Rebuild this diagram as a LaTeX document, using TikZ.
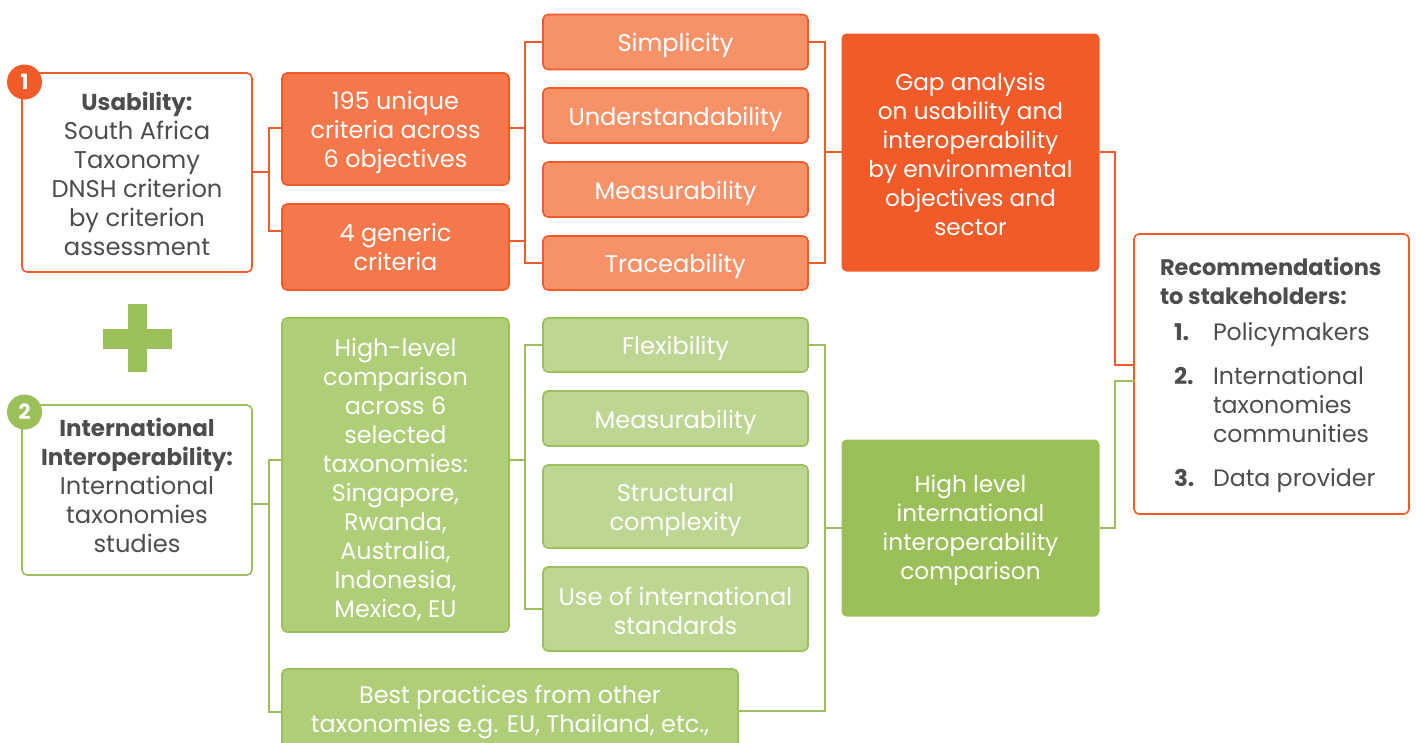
\documentclass[tikz,border=0pt]{standalone}
\usepackage{fontspec}
\setmainfont{Poppins}
\definecolor{org}{HTML}{F15A29}
\definecolor{orgm}{HTML}{F5784C}
\definecolor{orgl}{HTML}{F79268}
\definecolor{grn}{HTML}{9BC059}
\definecolor{grnm}{HTML}{AECE78}
\definecolor{grnl}{HTML}{BDD692}
\definecolor{ink}{HTML}{4D4D4F}
% multi-line text with rows exactly 29pt apart; the optional argument moves the text down
\newcommand\tx[2][0]{\vbox{\baselineskip=29pt\lineskiplimit=-100pt\let\\\cr
  \halign{\hfil\vrule height \dimexpr 22.8pt+#1pt\relax depth \dimexpr 6.2pt-#1pt\relax width 0pt ##\hfil\cr #2\crcr}}}
\newcommand\txl[2][0]{\vbox{\baselineskip=29pt\lineskiplimit=-100pt\let\\\cr
  \halign{\vrule height \dimexpr 22.8pt+#1pt\relax depth \dimexpr 6.2pt-#1pt\relax width 0pt ##\hfil\cr #2\crcr}}}
\newcommand\bfs[1]{{\fontsize{23}{29}\selectfont\bfseries #1}}
\newcommand\bfr[1]{{\fontsize{22.5}{29}\selectfont\bfseries #1}}
\newcommand\num[1]{\hspace*{14pt}\makebox[39pt][l]{\bfs{#1}}}
\tikzset{
 x=1pt,y=-1pt,
 base/.style={rounded corners=5pt,line width=1.6pt,outer sep=0pt,inner sep=0pt,
   font=\fontsize{23.9}{29}\selectfont},
 size/.style 2 args={minimum width=#1pt,minimum height=#2pt},
 orgwhite/.style={base,draw=org,fill=white,text=ink,font=\fontsize{24.2}{29}\selectfont},
 grnwhite/.style={base,draw=grn,fill=white,text=ink,font=\fontsize{24.2}{29}\selectfont},
 orgmid/.style={base,draw=org,fill=orgm,text=white},
 orglight/.style={base,draw=org,fill=orgl,text=white,font=\fontsize{24.1}{29}\selectfont},
 orgstrong/.style={base,fill=org,text=white,font=\fontsize{23.2}{29}\selectfont},
 grnmid/.style={base,draw=grn,fill=grnm,text=white},
 grnlight/.style={base,draw=grn,fill=grnl,text=white,font=\fontsize{24.1}{29}\selectfont},
 grnstrong/.style={base,fill=grn,text=white,font=\fontsize{23.2}{29}\selectfont},
 recbox/.style={orgwhite,font=\fontsize{23.7}{29}\selectfont},
 badge/.style={circle,minimum size=35pt,inner sep=0pt,outer sep=0pt,text=white,font=\fontsize{21}{24}\selectfont\bfseries},
 olink/.style={draw=org,line width=1.5pt},
 glink/.style={draw=grn,line width=1.5pt},
}
\begin{document}
\begin{tikzpicture}
\clip (0,0) rectangle (1416,742);
% plus
\fill[grn] (127.5,304) rectangle (147,372);
\fill[grn] (103,329) rectangle (171.5,349);

% junction coordinates
\coordinate (j1) at (269,172);
\coordinate (j1a) at (269,128);
\coordinate (j1b) at (269,231);
\coordinate (j2) at (525,128);
\coordinate (j2b) at (525,241);
\coordinate (j2a) at (525,42);
\coordinate (j2c) at (525,263);
\coordinate (j3) at (825,152);
\coordinate (j3a) at (825,42);
\coordinate (j3c) at (825,263);
\coordinate (j4) at (1115,152);
\coordinate (j4b) at (1115,365);
\coordinate (g1) at (269,504);
\coordinate (g1a) at (269,460);
\coordinate (g1b) at (269,712);
\coordinate (g2) at (525,460);
\coordinate (g2a) at (525,345);
\coordinate (g2c) at (525,609);
\coordinate (g3) at (825,528);
\coordinate (g3a) at (825,345);
\coordinate (g3c) at (825,711);
\coordinate (g4) at (1115,528);
\coordinate (g4b) at (1115,381);

% top row
\node[orgwhite,size={230}{199}] (usab) at (137,172.5) {\tx[2.5]{\bfs{Usability:}\\South Africa\\Taxonomy\\DNSH criterion\\by criterion\\assessment}};
\node[orgmid,size={227}{112}] (crita) at (395.5,129) {\tx[3]{195 unique\\criteria across\\6 objectives}};
\node[orgmid,size={227}{86}] (critb) at (395.5,247) {\tx[0.5]{4 generic\\criteria}};
\node[orglight,size={265}{55}] (simp) at (675.5,42) {\tx[2.8]{Simplicity}};
\node[orglight,size={265}{55}] (under) at (675.5,115.5) {\tx[2.8]{Understandability}};
\node[orglight,size={265}{55}] (meas) at (675.5,189.5) {\tx[2.8]{Measurability}};
\node[orglight,size={265}{54}] (trace) at (675.5,263) {\tx[2.8]{Traceability}};
\node[orgstrong,size={258}{238}] (gap) at (970.5,152.5) {\tx[2.2]{Gap analysis\\on usability and\\interoperability\\by environmental\\objectives and\\sector}};

% bottom row
\node[grnwhite,size={230}{170}] (intl) at (137,490) {\tx[-4]{\bfs{International}\\\bfs{Interoperability:}\\International\\taxonomies\\studies}};
\node[grnmid,size={227}{314}] (hilev) at (395.5,475) {\tx[4]{High-level\\comparison\\across 6\\selected\\taxonomies:\\Singapore,\\Rwanda,\\Australia,\\Indonesia,\\Mexico, EU}};
\node[grnmid,size={456}{80}] (best) at (510,709) {\tx[2]{Best practices from other\\taxonomies e.g. EU, Thailand, etc.,}};
\node[grnlight,size={265}{54}] (flex) at (675.5,345) {\tx[3]{Flexibility}};
\node[grnlight,size={265}{55}] (meastwo) at (675.5,418.5) {\tx[3]{Measurability}};
\node[grnlight,size={265}{83}] (struct) at (675.5,506.5) {\tx[3]{Structural\\complexity}};
\node[grnlight,size={265}{84}] (stand) at (675.5,609) {\tx[3]{Use of international\\standards}};
\node[grnstrong,size={258}{177}] (hl) at (970.5,528) {\tx[-0.5]{High level\\international\\interoperability\\comparison}};

% recommendations
\node[recbox,size={275}{280}] (rec) at (1271.5,374)
 {\makebox[275pt][l]{\hspace*{26pt}\txl[-1.5]{\bfr{Recommendations}\\
  \bfr{to stakeholders:}\\\noalign{\vskip7pt}
  \num{1.}Policymakers\\\noalign{\vskip15pt}
  \num{2.}International\\
  \hspace*{53pt}taxonomies\\
  \hspace*{53pt}communities\\\noalign{\vskip15pt}
  \num{3.}Data provider}}};

% badges
\node[badge,fill=org] (bone) at (24.5,82) {1};
\node[badge,fill=grn] (btwo) at (24.5,412) {2};

% connectors orange
\draw[olink] (usab.east |- j1) -- (j1);
\draw[olink] (crita.west |- j1a) -- (j1a) -- (j1b) -- (critb.west |- j1b);
\draw[olink] (crita.east |- j2) -- (j2);
\draw[olink] (critb.east |- j2b) -- (j2b);
\draw[olink] (simp.west) -- (j2a) -- (j2c) -- (trace.west);
\draw[olink] (simp.east) -- (j3a) -- (j3c) -- (trace.east);
\draw[olink] (j3) -- (gap.west |- j3);
\draw[olink] (gap.east |- j4) -- (j4) -- (j4b) -- (rec.west |- j4b);

% connectors green
\draw[glink] (intl.east |- g1) -- (g1);
\draw[glink] (hilev.west |- g1a) -- (g1a) -- (g1b) -- (best.west |- g1b);
\draw[glink] (hilev.east |- g2) -- (g2);
\draw[glink] (flex.west) -- (g2a) -- (g2c) -- (stand.west);
\draw[glink] (flex.east) -- (g3a) -- (g3c) -- (best.east |- g3c);
\draw[glink] (g3) -- (hl.west |- g3);
\draw[glink] (hl.east |- g4) -- (g4) -- (g4b) -- (rec.west |- g4b);
\end{tikzpicture}
\end{document}
